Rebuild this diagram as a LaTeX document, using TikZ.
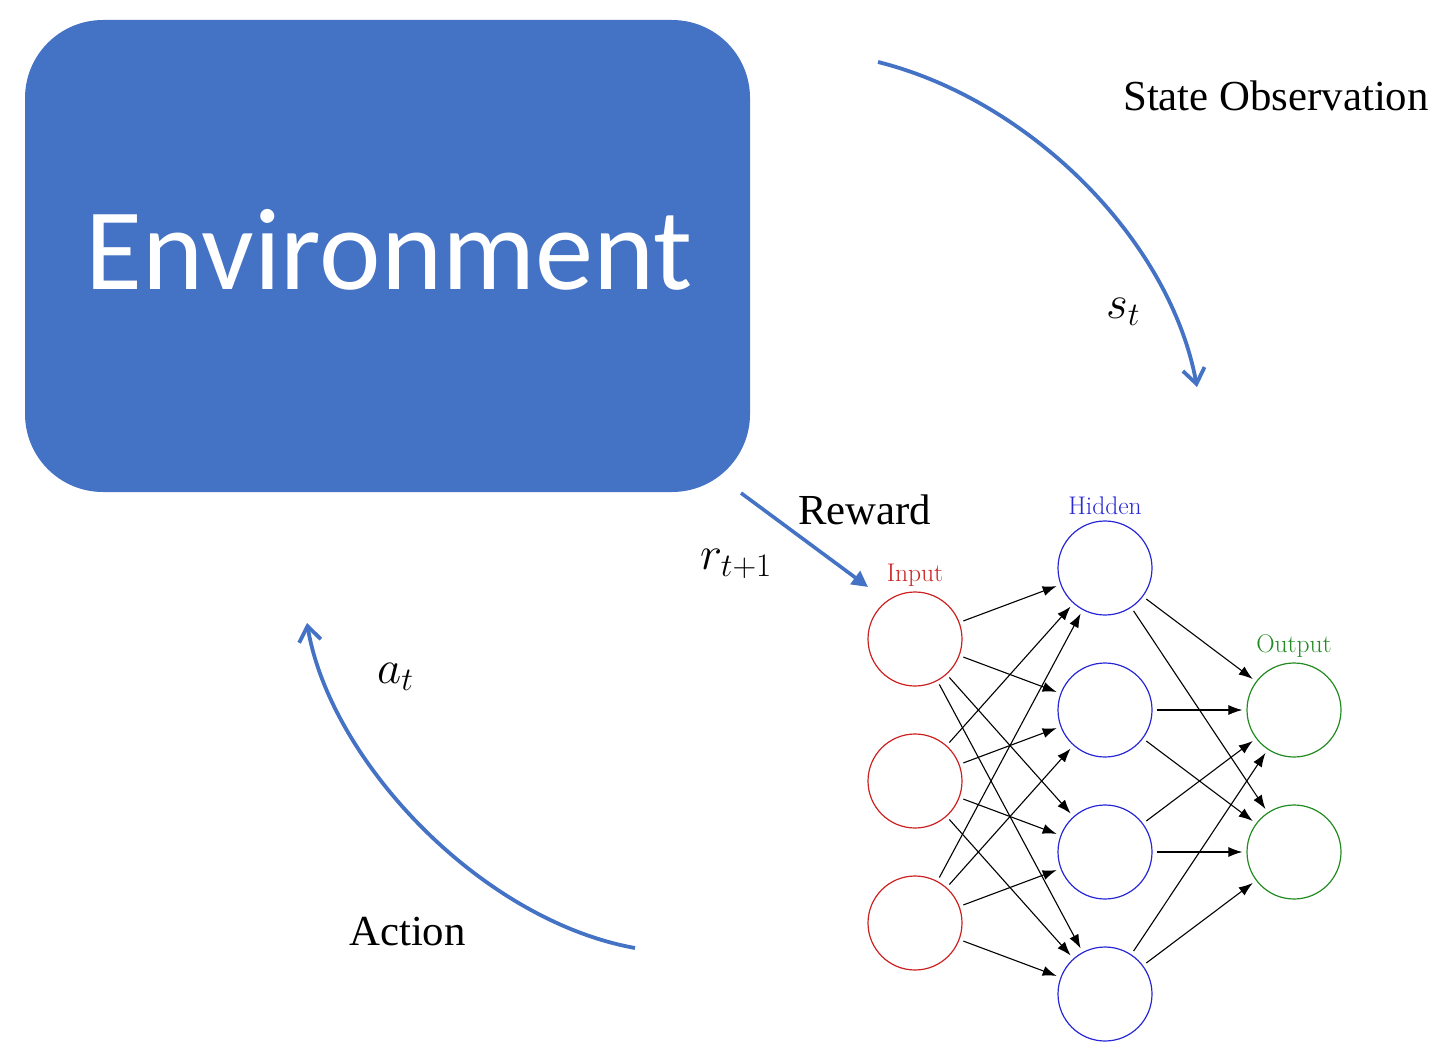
\RequirePackage{fix-cm}
\documentclass[tikz,border=0pt]{standalone}
\usepackage{fontspec}
\newfontfamily\timesf{Liberation Serif}
\newfontfamily\calibrif{Carlito}
\usetikzlibrary{arrows.meta}
\definecolor{envblue}{HTML}{4472C4}
\definecolor{nnred}{RGB}{204,34,34}
\definecolor{nnblue}{RGB}{40,40,215}
\definecolor{nngreen}{RGB}{34,139,34}
\tikzset{
  bigtext/.style={font=\timesf\fontsize{42.8}{50}\selectfont, inner sep=0pt, anchor=base west},
  mathtext/.style={font=\fontsize{47}{55}\selectfont, inner sep=0pt, anchor=base west},
  neuron/.style={circle, draw=#1, line width=1.2pt, minimum size=94pt, inner sep=0pt},
  layerlabel/.style={font=\fontsize{25.5}{30}\selectfont, text=#1, inner sep=0pt, anchor=base},
  conn/.style={-{Latex[length=14pt,width=10pt]}, line width=1.1pt, shorten <=4pt, shorten >=4pt},
  loopline/.style={envblue, line width=3.8pt},
}
\begin{document}
\begin{tikzpicture}[x=1pt,y=-1pt]
\useasboundingbox (0,0) rectangle (1450,1062);
% environment box
\fill[envblue, rounded corners=78pt] (25,20) rectangle (750,492);
\node[font=\calibrif\fontsize{116.5}{130}\selectfont, text=white, inner sep=0pt, anchor=base] (env) at (389,289) {Environment};

% labels
\node[bigtext] (stateobs) at (1123,111) {State Observation};
\node[bigtext] (reward) at (798,524) {Reward};
\node[bigtext] (action) at (349,945) {Action};
\node[mathtext] (st) at (1106,318) {$s_t$};
\node[mathtext] (rt) at (700,569) {$r_{t+1}$};
\node[mathtext] (at) at (377,683) {$a_t$};

% loop arrows
\coordinate (sA) at (878,62);
\coordinate (sB) at (1197,387);
\draw[loopline, -{Straight Barb[length=15pt,width=22pt]}] (sA) .. controls (1030,100) and (1170,240) .. (sB);
\coordinate (aA) at (635,948);
\coordinate (aB) at (307,623);
\draw[loopline, -{Straight Barb[length=15pt,width=22pt]}] (aA) .. controls (480,920) and (330,760) .. (aB);
\coordinate (rA) at (741,493);
\coordinate (rB) at (868,587);
\draw[envblue, line width=3.6pt, -{Triangle[length=16pt,width=16pt]}] (rA) -- (rB);

% neurons
\node[neuron=nnred] (i1) at (915,639) {};
\node[neuron=nnred] (i2) at (915,781) {};
\node[neuron=nnred] (i3) at (915,923) {};
\node[neuron=nnblue] (h1) at (1105,568) {};
\node[neuron=nnblue] (h2) at (1105,710) {};
\node[neuron=nnblue] (h3) at (1105,852) {};
\node[neuron=nnblue] (h4) at (1105,994) {};
\node[neuron=nngreen] (o1) at (1294,710) {};
\node[neuron=nngreen] (o2) at (1294,852) {};

\node[layerlabel=nnred] (inlab) at (915,581) {Input};
\node[layerlabel=nnblue] (hidlab) at (1105,514) {Hidden};
\node[layerlabel=nngreen] (outlab) at (1294,652) {Output};

\foreach \i in {i1,i2,i3}
  \foreach \h in {h1,h2,h3,h4}
    \draw[conn] (\i) -- (\h);
\foreach \h in {h1,h2,h3,h4}
  \foreach \o in {o1,o2}
    \draw[conn] (\h) -- (\o);
\end{tikzpicture}
\end{document}
